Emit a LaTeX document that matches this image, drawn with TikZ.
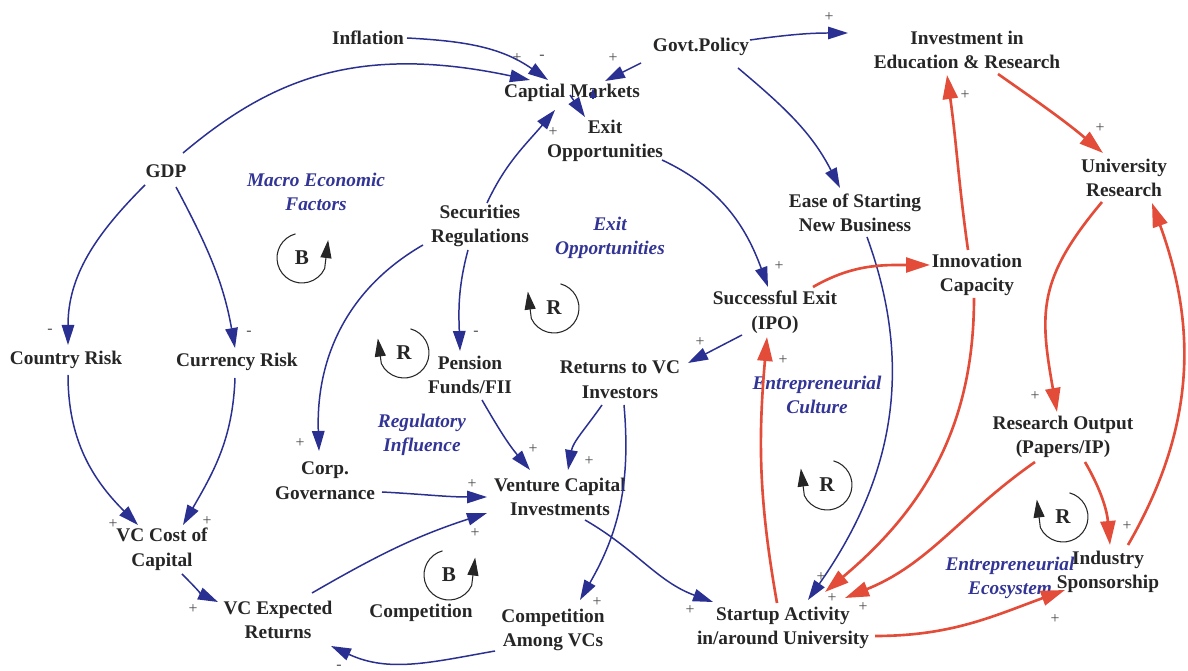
\documentclass[tikz,border=0pt]{standalone}
\usepackage{fontspec}
\setmainfont{Liberation Serif}
\usetikzlibrary{arrows.meta,calc}

\definecolor{linkblue}{RGB}{42,48,145}
\definecolor{linkred}{RGB}{226,76,56}
\definecolor{labelblue}{RGB}{50,52,150}

\tikzset{
  var/.style={font=\bfseries\fontsize{11}{14}\selectfont, align=center, inner sep=1pt, text=black!85},
  looplabel/.style={font=\bfseries\itshape\fontsize{11}{14}\selectfont, align=center, inner sep=1pt, text=labelblue},
  sign/.style={font=\fontsize{9}{9}\selectfont, inner sep=0pt, text=black!70},
  loopsym/.style={font=\bfseries\fontsize{12}{12}\selectfont, inner sep=0pt, text=black!85},
  looparrow/.style={draw=black!85, line width=0.6pt, -{Triangle[length=0.36cm,width=0.22cm]}},
  bluelink/.style={draw=linkblue, line width=0.85pt, -{Triangle[length=0.4cm,width=0.25cm]}},
  redlink/.style={draw=linkred, line width=1.5pt, -{Triangle[length=0.48cm,width=0.3cm]}}
}

\begin{document}
\begin{tikzpicture}[x=0.02cm, y=-0.02cm]
    \useasboundingbox (0,0) rectangle (1188,671);

    % Variables
    \node[var] (infl) at (368,38) {Inflation};
    \node[var] (capm) at (572,93) {Captial Markets};
    \node[var] (govt) at (701,47) {Govt.Policy};
    \node[var] (inved) at (967,50) {Investment in\\Education \& Research};
    \node[var] (exitop) at (605,141) {Exit\\Opportunities};
    \node[var] (gdp) at (166,171) {GDP};
    \node[var] (unires) at (1124,178) {University\\Research};
    \node[var] (ease) at (855,213) {Ease of Starting\\New Business};
    \node[var] (secreg) at (480,226) {Securities\\Regulations};
    \node[var] (innov) at (977,275) {Innovation\\Capacity};
    \node[var] (ipo) at (775,312) {Successful Exit\\(IPO)};
    \node[var] (ctry) at (66,360) {Country Risk};
    \node[var] (curr) at (237,362) {Currency Risk};
    \node[var] (pension) at (470,375) {Pension\\Funds/FII};
    \node[var] (retvc) at (620,380) {Returns to VC\\Investors};
    \node[var] (resout) at (1063,437) {Research Output\\(Papers/IP)};
    \node[var] (corpgov) at (325,481) {Corp.\\Governance};
    \node[var] (vci) at (560,497) {Venture Capital\\Investments};
    \node[var] (cost) at (162,549) {VC Cost of\\Capital};
    \node[var] (indsp) at (1108,572) {Industry\\Sponsorship};
    \node[var] (expret) at (278,620) {VC Expected\\Returns};
    \node[var] (compvc) at (553,630) {Competition\\Among VCs};
    \node[var] (startup) at (783,628) {Startup Activity\\in/around University};
    \node[var] (compet) at (421,613) {Competition};

    % Loop names
    \node[looplabel] (macro) at (316,192) {Macro Economic\\Factors};
    \node[looplabel] (exitlbl) at (610,238) {Exit\\Opportunities};
    \node[looplabel] (culture) at (817,395) {Entrepreneurial\\Culture};
    \node[looplabel] (regul) at (422,435) {Regulatory\\Influence};
    \node[looplabel] (ecosys) at (1010,578) {Entrepreneurial\\Ecosystem};

    % Loop symbols
    \node[loopsym] (loopmacro) at (302,258) {B};
    \draw[looparrow] ($(loopmacro)+(105:0.5cm)$) arc[start angle=105, end angle=335, radius=0.5cm] -- ++(0.07cm,0.57cm);
    \node[loopsym] (loopexit) at (554,308) {R};
    \draw[looparrow] ($(loopexit)+(75:0.5cm)$) arc[start angle=75, end angle=-155, radius=0.5cm] -- ++(-0.07cm,0.54cm);
    \node[loopsym] (loopreg) at (404,353) {R};
    \draw[looparrow] ($(loopreg)+(75:0.5cm)$) arc[start angle=75, end angle=-155, radius=0.5cm] -- ++(-0.07cm,0.5cm);
    \node[loopsym] (loopcult) at (827,485) {R};
    \draw[looparrow] ($(loopcult)+(75:0.5cm)$) arc[start angle=75, end angle=-155, radius=0.5cm] -- ++(-0.07cm,0.54cm);
    \node[loopsym] (loopeco) at (1063,517) {R};
    \draw[looparrow] ($(loopeco)+(75:0.5cm)$) arc[start angle=75, end angle=-155, radius=0.5cm] -- ++(-0.07cm,0.56cm);
    \node[loopsym] (loopcomp) at (449,575) {B};
    \draw[looparrow] ($(loopcomp)+(105:0.5cm)$) arc[start angle=105, end angle=335, radius=0.5cm] -- ++(0.07cm,0.56cm);

    % Blue links
    \draw[bluelink] ($(infl)+(39,0)$) to[out=-3,in=145] ($(capm)+(-24,-13)$);
    \draw[bluelink] ($(gdp)+(17,-18)$) to[out=40,in=168,out looseness=0.8,in looseness=1.3] ($(capm)+(-42,-13)$);
    \draw[bluelink] ($(govt)+(-60,16)$) -- ($(capm)+(33,-12)$);
    \draw[bluelink] ($(govt)+(49,-7)$) to[out=8,in=180] ($(inved)+(-119,-17)$);
    \draw[bluelink] ($(govt)+(37,21)$) to[out=-40,in=117] ($(ease)+(-15,-25)$);
    \draw[bluelink] ($(capm)+(-2,2)$) -- ($(exitop)+(-20,-24)$);
    \draw[bluelink, shorten <=0.4cm, -{Triangle[length=0.2cm,width=0.12cm]}] ($(exitop)+(-12,-22)$) -- ($(capm)+(21,-5)$);
    \draw[bluelink] ($(secreg)+(7,-23)$) to[out=65,in=230] ($(capm)+(-17,17)$);
    \draw[bluelink] ($(exitop)+(57,19)$) to[out=-25,in=110] ($(ipo)+(-7,-25)$);
    \draw[bluelink] ($(ease)+(12,24)$) to[out=-70,in=55] ($(startup)+(25,-28)$);
    \draw[bluelink] ($(ipo)+(-33,23)$) -- ($(retvc)+(68,-17)$);
    \draw[bluelink] ($(secreg)+(-12,24)$) to[out=-105,in=92] ($(pension)+(-10,-24)$);
    \draw[bluelink] ($(secreg)+(-57,19)$) to[out=210,in=92] ($(corpgov)+(-6,-30)$);
    \draw[bluelink] ($(pension)+(12,25)$) to[out=-60,in=130] ($(vci)+(-30,-27)$);
    \draw[bluelink] ($(retvc)+(-18,25)$) to[out=-125,in=80] ($(vci)+(8,-27)$);
    \draw[bluelink] ($(retvc)+(4,25)$) to[out=-85,in=60] ($(compvc)+(27,-30)$);
    \draw[bluelink] ($(corpgov)+(57,11)$) to[out=-3,in=180] ($(vci)+(-73,0)$);
    \draw[bluelink] ($(expret)+(34,-27)$) to[out=30,in=198] ($(vci)+(-73,16)$);
    \draw[bluelink] ($(vci)+(25,23)$) to[out=-30,in=160] ($(startup)+(-70,-26)$);
    \draw[bluelink] ($(compvc)+(-58,21)$) to[out=190,in=-25] ($(expret)+(53,26)$);
    \draw[bluelink] ($(gdp)+(-21,14)$) to[out=225,in=90] ($(ctry)+(2,-15)$);
    \draw[bluelink] ($(gdp)+(10,16)$) to[out=-62,in=100] ($(curr)+(-2,-14)$);
    \draw[bluelink] ($(ctry)+(2,15)$) to[out=-90,in=135] ($(cost)+(-24,-24)$);
    \draw[bluelink] ($(curr)+(-2,16)$) to[out=-92,in=60] ($(cost)+(21,-24)$);
    \draw[bluelink] ($(cost)+(20,25)$) to[out=-45,in=155] ($(expret)+(-60,-18)$);

    % Red links
    \draw[redlink] ($(ipo)+(38,-25)$) to[out=30,in=180] ($(innov)+(-47,-10)$);
    \draw[redlink] ($(innov)+(-9,-25)$) to[out=98,in=-82] ($(inved)+(-20,25)$);
    \draw[redlink] ($(inved)+(31,24)$) to[out=-35,in=140] ($(unires)+(-21,-25)$);
    \draw[redlink] ($(unires)+(-22,24)$) to[out=230,in=100,looseness=1.2] ($(resout)+(-6,-25)$);
    \draw[redlink] ($(resout)+(22,25)$) to[out=-60,in=95] ($(indsp)+(2,-27)$);
    \draw[redlink] ($(resout)+(-28,25)$) to[out=215,in=22] ($(startup)+(62,-30)$);
    \draw[redlink] ($(innov)+(-3,23)$) to[out=-90,in=40] ($(startup)+(42,-36)$);
    \draw[redlink] ($(startup)+(-6,-25)$) to[out=100,in=-95] ($(ipo)+(-8,25)$);
    \draw[redlink] ($(startup)+(92,8)$) to[out=0,in=200] ($(indsp)+(-43,18)$);
    \draw[redlink] ($(indsp)+(20,-27)$) to[out=60,in=-70] ($(unires)+(28,25)$);

    % Polarities
    \node[sign] (p1) at (517,58) {+};
    \node[sign] (p2) at (542,57) {-};
    \node[sign] (p3) at (613,58) {+};
    \node[sign] (p4) at (553,132) {+};
    \node[sign] (p5) at (829,17) {+};
    \node[sign] (p6) at (965,95) {+};
    \node[sign] (p7) at (1100,128) {+};
    \node[sign] (p8) at (50,331) {-};
    \node[sign] (p9) at (249,333) {-};
    \node[sign] (p10) at (779,266) {+};
    \node[sign] (p11) at (476,333) {-};
    \node[sign] (p12) at (700,342) {+};
    \node[sign] (p13) at (783,360) {+};
    \node[sign] (p14) at (113,524) {+};
    \node[sign] (p15) at (207,521) {+};
    \node[sign] (p16) at (300,443) {+};
    \node[sign] (p17) at (193,609) {+};
    \node[sign] (p18) at (339,667) {-};
    \node[sign] (p19) at (533,449) {+};
    \node[sign] (p20) at (589,461) {+};
    \node[sign] (p21) at (472,484) {+};
    \node[sign] (p22) at (475,533) {+};
    \node[sign] (p23) at (597,602) {+};
    \node[sign] (p24) at (690,610) {+};
    \node[sign] (p25) at (821,577) {+};
    \node[sign] (p26) at (832,598) {+};
    \node[sign] (p27) at (863,607) {+};
    \node[sign] (p28) at (1035,396) {+};
    \node[sign] (p29) at (1127,526) {+};
    \node[sign] (p30) at (1055,619) {+};
\end{tikzpicture}
\end{document}
